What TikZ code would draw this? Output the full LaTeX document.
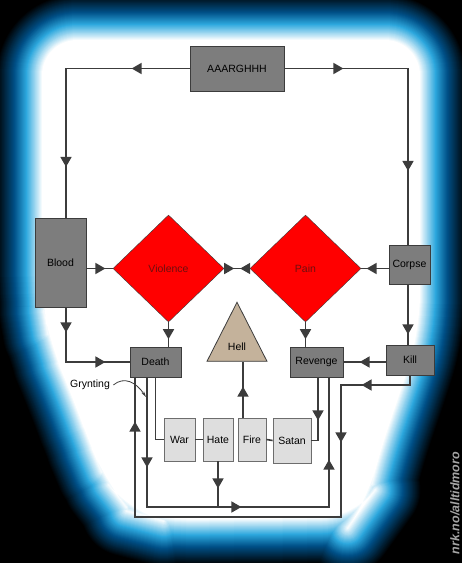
\documentclass[tikz,border=0pt]{standalone}
\usepackage{fontspec}
\setmainfont{Liberation Sans}
\usetikzlibrary{arrows.meta,positioning,calc,shapes.geometric,decorations.markings}
\definecolor{glow}{RGB}{45,168,222}
\definecolor{deep}{RGB}{0,80,135}
\definecolor{lnc}{RGB}{60,60,60}
\definecolor{boxd}{RGB}{125,125,125}
\definecolor{boxl}{RGB}{222,222,222}
\definecolor{blodrod}{RGB}{255,0,0}
\definecolor{txtred}{RGB}{110,15,15}
\definecolor{helltan}{RGB}{196,178,155}
\definecolor{wmgray}{RGB}{165,165,165}
\newcommand{\boxfont}{\fontsize{10.5}{12}\selectfont}
\newcommand{\skullpath}{(42,40) -- (420,40) -- (420,330) -- (398,400) -- (380,450) -- (368,500)
  -- (355,518) -- (160,520) -- (130,512) -- (105,480) -- (88,440) -- (72,395) -- (50,345) -- (42,300) -- cycle}
\tikzset{
  dbox/.style={draw=lnc, fill=boxd, thick, font=\boxfont, inner sep=0pt},
  lbox/.style={draw=lnc!75, fill=boxl, thick, font=\boxfont, inner sep=0pt,
               minimum width=30pt, minimum height=43pt},
  dia/.style={diamond, draw=lnc, fill=blodrod, text=txtred, font=\boxfont,
              minimum width=111pt, minimum height=107pt, inner sep=0pt},
  hellbox/.style={isosceles triangle, shape border rotate=90, isosceles triangle stretches,
              draw=lnc, fill=helltan, thick, font=\boxfont, inner sep=0pt,
              minimum width=60pt, minimum height=59pt},
  flow/.style={lnc, line width=1.6pt},
  tip/.style={postaction={decorate, decoration={markings,
      mark=at position #1 with {\arrow{Triangle[length=10pt,width=11pt]}}}}},
  rtip/.style={postaction={decorate, decoration={markings,
      mark=at position #1 with {\arrowreversed{Triangle[length=10pt,width=11pt]}}}}},
}
\begin{document}
\begin{tikzpicture}[x=1pt, y=-1pt]
  \useasboundingbox (0,0) rectangle (462,563);
  % glow
  \fill[black] (0,0) rectangle (462,563);
  \foreach \d in {46,45,...,1}{
    \pgfmathtruncatemacro\pa{min(100,100*\d/16)}
    \pgfmathtruncatemacro\pb{max(0,min(100,100*(28-\d)/12))}
    \pgfmathtruncatemacro\pc{max(0,min(100,100*(46-\d)/18))}
    \draw[line width=2*\d pt, glow!\pb!deep!\pc!black!\pa!white, rounded corners=35pt, line join=round] \skullpath;}
  \fill[white, rounded corners=35pt] \skullpath;
  % boxes
  \node[dbox, minimum width=94pt, minimum height=45pt] (argh) at (237,68.5) {AAARGHHH};
  \node[dbox, minimum width=51pt, minimum height=89pt] (blood) at (60.5,262.5) {Blood};
  \node[dbox, minimum width=41pt, minimum height=39pt] (corpse) at (409.5,264.5) {Corpse};
  \node[dbox, minimum width=48pt, minimum height=30pt] (kill) at (410,360) {Kill};
  \node[dbox, minimum width=53pt, minimum height=30pt] (revenge) at (316.5,362) {Revenge};
  \node[dbox, minimum width=51pt, minimum height=30pt] (death) at (155.5,362) {Death};
  \node[dia] (violence) at (168.5,268.5) {Violence};
  \node[dia] (pain) at (305.5,268.5) {Pain};
  \node[hellbox] (hell) at (237,347) {Hell};
  \node[lbox, minimum width=31pt] (war) at (179.5,439.5) {War};
  \node[lbox] (hate) at (218,439.5) {Hate};
  \node[lbox, minimum width=28pt] (fire) at (252,439.5) {Fire};
  \node[lbox, minimum width=38pt, minimum height=45pt] (satan) at (292,440.5) {Satan};
  \node[font=\boxfont] (grynt) at (90,385) {Grynting};
  \node[rotate=90, font=\bfseries\itshape\fontsize{12.5}{14}\selectfont, text=wmgray] (wm) at (455,503) {nrk.no/alltidmoro};
  \coordinate (killturn) at (341,385);
  \coordinate (busout) at (341,517);
  \coordinate (busin) at (329,507);
  % connectors
  \draw[flow, tip=58pt, tip=222pt] (argh.west) -| ([xshift=5.5pt]blood.north);
  \draw[flow, tip=59pt, tip=226pt] (argh.east) -| ([xshift=-1.5pt]corpse.north);
  \draw[flow, tip=19pt] (violence.west -| blood.east) -- (violence.west);
  \draw[flow, tip=22pt] (pain.east -| corpse.west) -- (pain.east);
  \draw[flow, tip=10pt, rtip=16pt] (violence.east) -- (pain.west);
  \draw[flow, tip=25pt, tip=94pt] ([xshift=5.5pt]blood.south) |- (death.west);
  \draw[flow, tip=17pt] (violence.south) -- (violence.south |- death.north);
  \draw[flow, tip=17pt] (pain.south) -- (pain.south |- revenge.north);
  \draw[flow, tip=50pt] ([xshift=-1.5pt]corpse.south) -- ([xshift=-1.5pt]corpse.south |- kill.north);
  \draw[flow, tip=26pt] (revenge.east -| kill.west) -- (revenge.east);
  \draw[flow, tip=58pt, tip=136pt, tip=512pt] (kill.south) |- (killturn) -- (busout) -| ([xshift=-20.5pt]death.south);
  \draw[flow, tip=90pt, tip=224pt, tip=359pt] ([xshift=-8.5pt]death.south) |- (busin) -- ([xshift=12.5pt]revenge.south);
  \draw[flow, tip=27pt] (hate.south) -- (hate.south |- busin);
  \draw[flow] (death.south) |- (war.west);
  \draw[flow] (war.east) -- (hate.west);
  \draw[flow] (fire.east) -- (satan.west);
  \draw[flow, tip=31pt] ([xshift=-9pt]fire.north) -- ([xshift=-9pt]fire.north |- hell.left corner);
  \draw[flow, tip=43pt] ([xshift=1.5pt]revenge.south) |- (satan.east);
  \draw[lnc, line width=0.8pt, -{Stealth[length=6pt,width=3pt]}] (grynt.east) .. controls (124,376) and (136,382) .. (146,397);
\end{tikzpicture}
\end{document}
